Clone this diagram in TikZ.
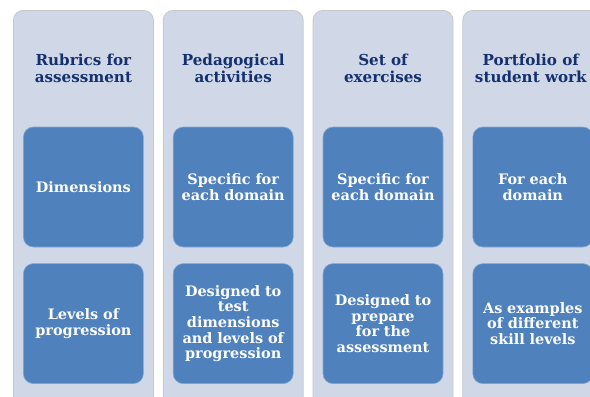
\documentclass[tikz,border=0pt]{standalone}
\usepackage{fontspec}
\setmainfont{DejaVu Serif}
\usetikzlibrary{positioning}

\definecolor{colbg}{HTML}{D0D8E8}
\definecolor{boxbg}{HTML}{4F81BD}
\definecolor{headtxt}{HTML}{14306E}

\begin{document}
\begin{tikzpicture}[x=1bp, y=-1bp,
% node style
column/.style={rectangle, rounded corners=10bp, draw=black!22, line width=0.8bp, fill=colbg, minimum width=140bp, minimum height=400bp, anchor=north west, inner sep=0pt},
head/.style={text=headtxt, font=\bfseries\fontsize{15.2}{16.8}\selectfont, align=center},
cell/.style={rectangle, rounded corners=10bp, draw=boxbg!70!white, line width=0.6bp, fill=boxbg, text=white, minimum size=120bp, text width=116bp, align=center, font=\bfseries\fontsize{14.5}{15.8}\selectfont, inner sep=0pt}
]
\useasboundingbox (0,0) rectangle (590,396);
\clip (0,0) rectangle (590,396);

% columns
\node[column] (col_a) at (13,10) {};
\node[column] (col_b) [right=9bp of col_a.north east, anchor=north west] {};
\node[column] (col_c) [right=9bp of col_b.north east, anchor=north west] {};
\node[column] (col_d) [right=9bp of col_c.north east, anchor=north west] {};

% headings
\node[head] (head_a) at ([yshift=-58bp]col_a.north) {Rubrics for\\assessment};
\node[head] (head_b) at ([yshift=-58bp]col_b.north) {Pedagogical\\activities};
\node[head] (head_c) at ([yshift=-58bp]col_c.north) {Set of\\exercises};
\node[head] (head_d) at ([xshift=-2bp,yshift=-58bp]col_d.north) {Portfolio of\\student work};

% top cells
\node[cell] (top_a) at ([yshift=-177bp]col_a.north) {Dimensions};
\node[cell] (top_b) at ([yshift=-177bp]col_b.north) {Specific for\\each domain};
\node[cell] (top_c) at ([yshift=-177bp]col_c.north) {Specific for\\each domain};
\node[cell] (top_d) at ([yshift=-177bp]col_d.north) {For each\\domain};

% bottom cells
\node[cell] (bot_a) [below=16bp of top_a] {Levels of\\progression};
\node[cell] (bot_b) [below=16bp of top_b] {Designed to\\test\\dimensions\\and levels of\\progression};
\node[cell] (bot_c) [below=16bp of top_c] {Designed to\\prepare\\for the\\assessment};
\node[cell] (bot_d) [below=16bp of top_d] {As examples\\of different\\skill levels};

\end{tikzpicture}
\end{document}
